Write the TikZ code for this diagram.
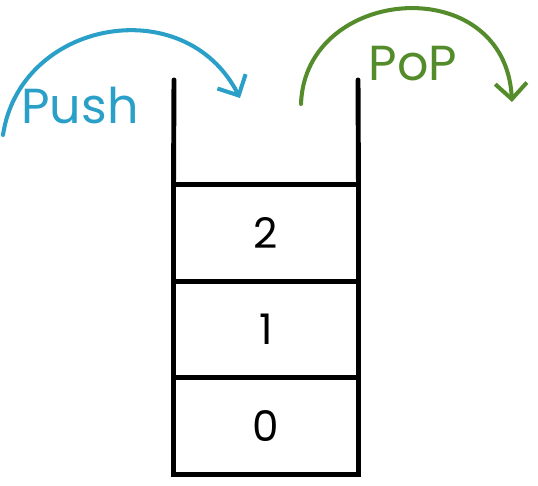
\documentclass[tikz,border=0pt]{standalone}
\usepackage{fontspec}
\newfontfamily\sketchfont{Poppins}
\usetikzlibrary{positioning,arrows.meta}
\definecolor{pushblue}{RGB}{42,160,200}
\definecolor{popgreen}{RGB}{84,140,44}

\begin{document}
\begin{tikzpicture}[
    x=0.02cm,
    y=-0.02cm,
    cell/.style={
        draw,
        line width=2.8pt,
        minimum width=3.7cm,
        minimum height=1.93cm,
        inner sep=0pt,
        outer sep=0pt,
        font=\sketchfont\fontsize{24}{24}\selectfont
    },
    wall/.style={line width=2.8pt, line cap=round},
    arc/.style={line width=2.3pt, line cap=round, -{Straight Barb[length=9pt,width=18pt,line width=2.3pt]}},
    oplabel/.style={font=\sketchfont\fontsize{28}{28}\selectfont}
]
\useasboundingbox (0,0) rectangle (538,486);

% ============================================================
% STACK
% ============================================================
\node[cell] (cell0) at (266,426) {0};
\node[cell, above=0pt of cell0] (cell1) {1};
\node[cell, above=0pt of cell1] (cell2) {2};

\coordinate (lefttop) at (174,80);
\coordinate (righttop) at (358,80);
\draw[wall] (cell2.north west) -- (lefttop);
\draw[wall] (cell2.north east) -- (righttop);

% ============================================================
% PUSH
% ============================================================
\coordinate (pushstart) at (3,135);
\coordinate (pushend) at (240,98);
\draw[arc, draw=pushblue] (pushstart) .. controls (20,20) and (185,-10) .. (pushend);
\node[oplabel, text=pushblue] (push) at (80,106) {Push};

% ============================================================
% POP
% ============================================================
\coordinate (popstart) at (301,104);
\coordinate (popend) at (512,102);
\draw[arc, draw=popgreen] (popstart) .. controls (305,-15) and (505,-30) .. (popend);
\node[oplabel, text=popgreen] (pop) at (413,64) {PoP};

\end{tikzpicture}
\end{document}
